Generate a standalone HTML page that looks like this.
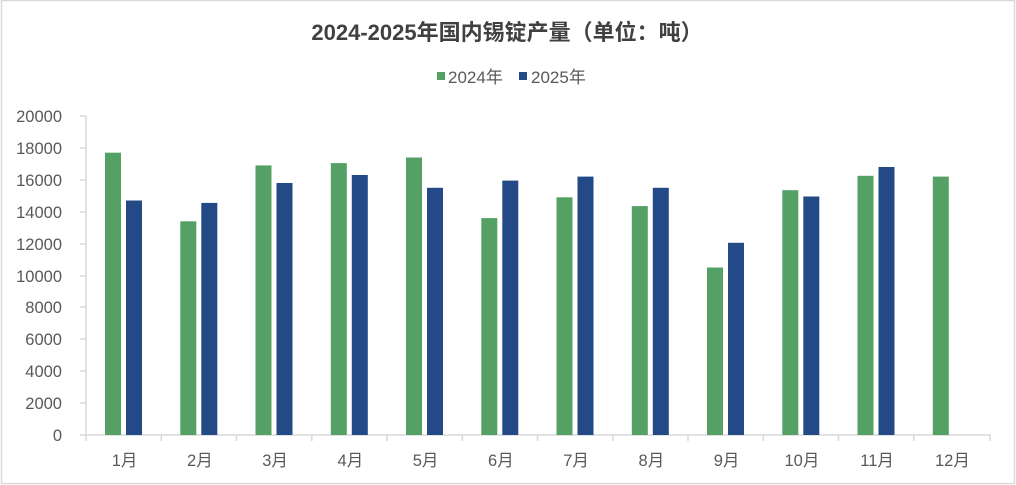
<!DOCTYPE html>
<html><head><meta charset="utf-8"><style>
html,body{margin:0;padding:0;background:#fff;}
svg{display:block;font-family:"Liberation Sans","Noto Sans CJK SC",sans-serif;}
</style></head><body>
<svg width="1016" height="485" viewBox="0 0 1016 485" xmlns="http://www.w3.org/2000/svg">
<rect x="1.5" y="0.5" width="1013" height="483" fill="#fff" stroke="#d9d9d9" stroke-width="1.5"/>
<text x="507" y="40" text-anchor="middle" font-size="22" font-weight="bold" fill="#404040">2024-2025年国内锡锭产量（单位：吨）</text>
<rect x="437" y="72" width="8" height="8" fill="#55a065"/>
<text x="448" y="83" font-size="17" fill="#595959">2024年</text>
<rect x="519" y="72" width="8" height="8" fill="#234a87"/>
<text x="531" y="83" font-size="17" fill="#595959">2025年</text>
<g stroke="#d9d9d9" stroke-width="1.5" fill="none">
<line x1="86" y1="116" x2="86" y2="435"/>
<line x1="86" y1="435" x2="991" y2="435"/>
<path d="M80 116H86M80 148H86M80 180H86M80 212H86M80 244H86M80 276H86M80 307H86M80 339H86M80 371H86M80 403H86M80 435H86"/>
<path d="M86 435V441M161.3 435V441M236.5 435V441M311.8 435V441M387 435V441M462.3 435V441M537.5 435V441M612.8 435V441M688 435V441M763.3 435V441M838.5 435V441M913.8 435V441M990 435V441"/>
</g>
<g font-size="16.5" fill="#595959" text-anchor="end">
<text x="62" y="122">20000</text><text x="62" y="154">18000</text><text x="62" y="186">16000</text>
<text x="62" y="218">14000</text><text x="62" y="250">12000</text><text x="62" y="282">10000</text>
<text x="62" y="313">8000</text><text x="62" y="345">6000</text><text x="62" y="377">4000</text>
<text x="62" y="409">2000</text><text x="62" y="441">0</text>
</g>
<g font-size="16.5" fill="#595959" text-anchor="middle">
<text x="124.6" y="466">1月</text><text x="199.9" y="466">2月</text><text x="275.1" y="466">3月</text>
<text x="350.4" y="466">4月</text><text x="425.6" y="466">5月</text><text x="500.9" y="466">6月</text>
<text x="576.1" y="466">7月</text><text x="651.4" y="466">8月</text><text x="726.6" y="466">9月</text>
<text x="801.9" y="466">10月</text><text x="877.1" y="466">11月</text><text x="952.4" y="466">12月</text>
</g>
<g fill="#55a065">
<rect x="105" y="152.7" width="16" height="282.3"/>
<rect x="180.3" y="221.3" width="16" height="213.7"/>
<rect x="255.5" y="165.4" width="16" height="269.6"/>
<rect x="330.8" y="163.1" width="16" height="271.9"/>
<rect x="406" y="157.5" width="16" height="277.5"/>
<rect x="481.3" y="218.1" width="16" height="216.9"/>
<rect x="556.5" y="197.3" width="16" height="237.7"/>
<rect x="631.8" y="206.1" width="16" height="228.9"/>
<rect x="707" y="267.5" width="16" height="167.5"/>
<rect x="782.3" y="190.2" width="16" height="244.8"/>
<rect x="857.5" y="175.8" width="16" height="259.2"/>
<rect x="932.8" y="176.6" width="16" height="258.4"/>
</g>
<g fill="#234a87">
<rect x="126" y="200.5" width="16" height="234.5"/>
<rect x="201.3" y="202.9" width="16" height="232.1"/>
<rect x="276.5" y="183" width="16" height="252"/>
<rect x="351.8" y="175" width="16" height="260"/>
<rect x="427" y="187.8" width="16" height="247.2"/>
<rect x="502.3" y="180.6" width="16" height="254.4"/>
<rect x="577.5" y="176.6" width="16" height="258.4"/>
<rect x="652.8" y="187.8" width="16" height="247.2"/>
<rect x="728" y="242.8" width="16" height="192.2"/>
<rect x="803.3" y="196.5" width="16" height="238.5"/>
<rect x="878.5" y="167" width="16" height="268"/>
</g>
</svg>
</body></html>
